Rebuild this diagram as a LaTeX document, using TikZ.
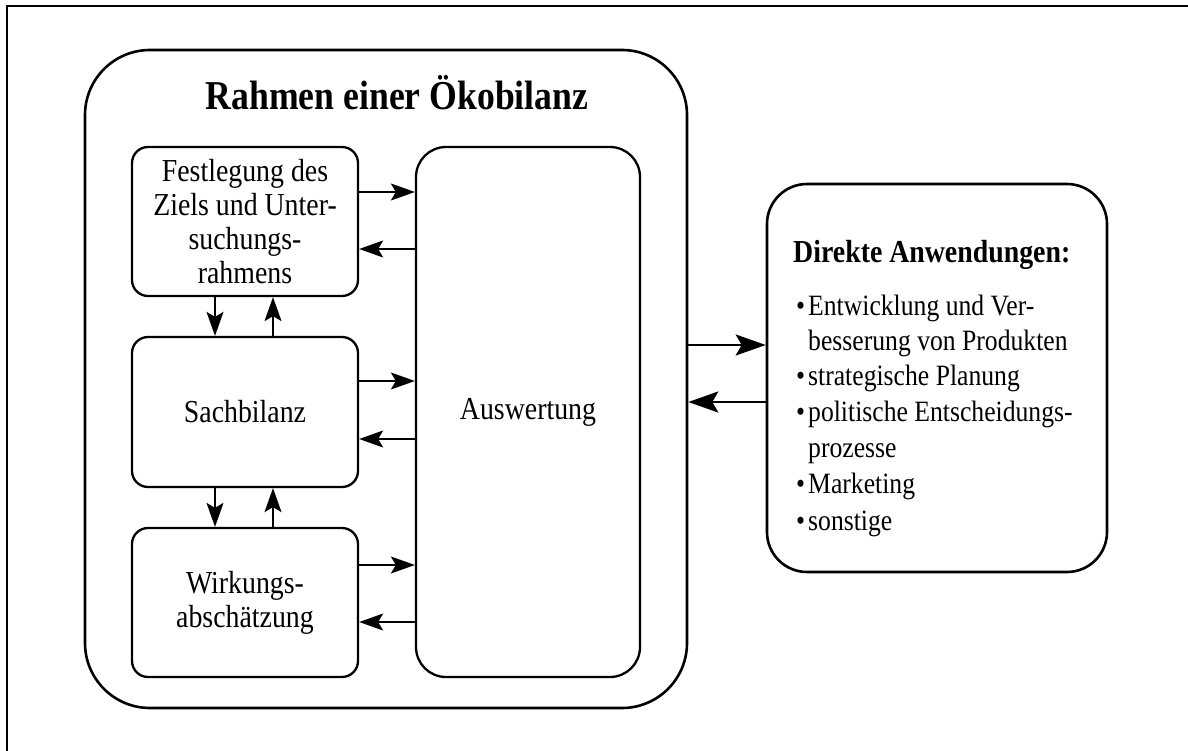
\documentclass[tikz,border=0pt]{standalone}
\usepackage{fontspec}
\setmainfont{Liberation Serif}[FakeStretch=0.87]
\usetikzlibrary{arrows.meta}
\begin{document}
\begin{tikzpicture}[x=1pt,y=-1pt,
  box/.style={draw,line width=2.3pt,rounded corners=16pt,align=center,inner sep=0pt,
    font=\fontsize{32}{34}\selectfont},
  thinarrow/.style={line width=1.4pt,-{Stealth[length=24pt,width=17pt,inset=5pt]}},
  thickarrow/.style={line width=2.8pt,-{Stealth[length=30pt,width=21pt,inset=6pt]}},
  lst/.style={anchor=base west,inner sep=0pt,font=\fontsize{29.5}{36}\selectfont}]
\useasboundingbox (0,0) rectangle (1188,751);
% frame
\draw[line width=1.6pt] (7,751) -- (7,6) -- (1188,6);
% outer frame
\node[draw,line width=2.6pt,rounded corners=65pt,minimum width=602pt,minimum height=658pt,inner sep=0pt] (outer) at (386,379) {};
\node[anchor=base,inner sep=0pt,font=\fontsize{41}{41}\selectfont\bfseries] (title) at (397,110) {Rahmen einer Ökobilanz};
% inner boxes
\node[box,minimum width=226pt,minimum height=149pt] (b1) at (245,221.5) {Festlegung des\\Ziels und Unter-\\suchungs-\\rahmens};
\node[box,minimum width=226pt,minimum height=150pt] (b2) at (245,412) {Sachbilanz};
\node[box,minimum width=226pt,minimum height=149pt] (b3) at (245,602.5) {Wirkungs-\\abschätzung};
\node[box,rounded corners=30pt,minimum width=224pt,minimum height=530pt] (aus) at (528,412) {Auswertung};
% right box
\node[draw,line width=2.6pt,rounded corners=40pt,minimum width=340pt,minimum height=388pt,inner sep=0pt] (app) at (937,378) {};
\node[anchor=base west,inner sep=0pt,font=\fontsize{32}{34}\selectfont\bfseries] (head) at (793,262) {Direkte Anwendungen:};
\node[lst] (l1) at (808,315) {\llap{\textbullet\hspace{3pt}}Entwicklung und Ver-};
\node[lst] (l2) at (808,350) {besserung von Produkten};
\node[lst] (l3) at (808,385) {\llap{\textbullet\hspace{3pt}}strategische Planung};
\node[lst] (l4) at (808,421) {\llap{\textbullet\hspace{3pt}}politische Entscheidungs-};
\node[lst] (l5) at (808,457) {prozesse};
\node[lst] (l6) at (808,493) {\llap{\textbullet\hspace{3pt}}Marketing};
\node[lst] (l7) at (808,530) {\llap{\textbullet\hspace{3pt}}sonstige};
% horizontal arrows
\draw[thinarrow] (b1.east |- 0,192) -- (aus.west |- 0,192);
\draw[thinarrow] (aus.west |- 0,249) -- (b1.east |- 0,249);
\draw[thinarrow] (b2.east |- 0,381) -- (aus.west |- 0,381);
\draw[thinarrow] (aus.west |- 0,439) -- (b2.east |- 0,439);
\draw[thinarrow] (b3.east |- 0,565) -- (aus.west |- 0,565);
\draw[thinarrow] (aus.west |- 0,622) -- (b3.east |- 0,622);
% vertical arrows
\draw[thinarrow] (b1.south -| 215,0) -- (b2.north -| 215,0);
\draw[thinarrow] (b2.north -| 273,0) -- (b1.south -| 273,0);
\draw[thinarrow] (b2.south -| 215,0) -- (b3.north -| 215,0);
\draw[thinarrow] (b3.north -| 273,0) -- (b2.south -| 273,0);
% thick arrows
\draw[thickarrow] (outer.east |- 0,345) -- (app.west |- 0,345);
\draw[thickarrow] (app.west |- 0,402) -- (outer.east |- 0,402);
\end{tikzpicture}
\end{document}
